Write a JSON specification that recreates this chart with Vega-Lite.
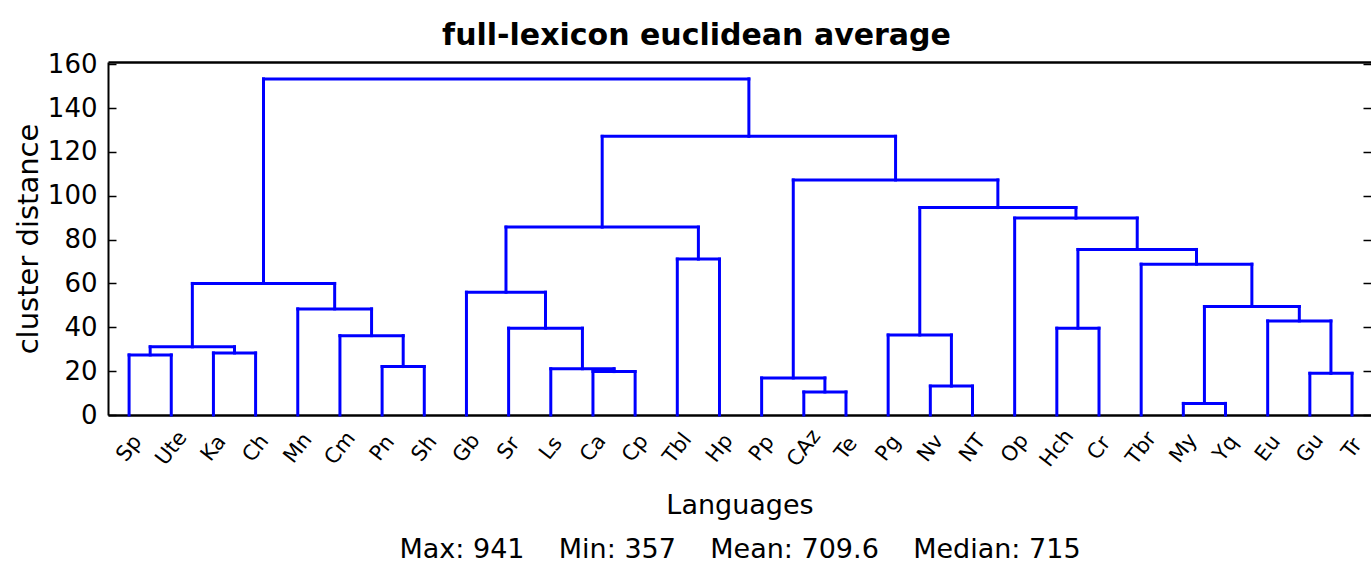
{
  "$schema": "https://vega.github.io/schema/vega-lite/v6.json",
  "autosize": {"type": "none"},
  "padding": {"left": 108, "top": 62, "right": 0, "bottom": 148},
  "width": 1263,
  "height": 353,
  "background": "white",
  "title": {"text": "full-lexicon euclidean average", "font": "DejaVu Sans", "fontSize": 30, "fontWeight": "bold", "color": "black", "anchor": "middle", "frame": "group", "dx": -43, "dy": 43, "offset": 19, "baseline": "alphabetic"},
  "config": {"view": {"stroke": null}},
  "data": {"values": [
    {"x1": 5, "y1": 0, "x2": 15, "y2": 0, "h": 27.4},
    {"x1": 25, "y1": 0, "x2": 35, "y2": 0, "h": 28.3},
    {"x1": 10, "y1": 27.4, "x2": 30, "y2": 28.3, "h": 31.1},
    {"x1": 65, "y1": 0, "x2": 75, "y2": 0, "h": 22.1},
    {"x1": 55, "y1": 0, "x2": 70, "y2": 22.1, "h": 36.2},
    {"x1": 45, "y1": 0, "x2": 62.5, "y2": 36.2, "h": 48.4},
    {"x1": 20, "y1": 31.1, "x2": 53.75, "y2": 48.4, "h": 60},
    {"x1": 115, "y1": 0, "x2": 125, "y2": 0, "h": 19.8},
    {"x1": 105, "y1": 0, "x2": 120, "y2": 19.8, "h": 21.1},
    {"x1": 95, "y1": 0, "x2": 112.5, "y2": 21.1, "h": 39.6},
    {"x1": 85, "y1": 0, "x2": 103.75, "y2": 39.6, "h": 56},
    {"x1": 135, "y1": 0, "x2": 145, "y2": 0, "h": 71.1},
    {"x1": 94.375, "y1": 56, "x2": 140, "y2": 71.1, "h": 85.7},
    {"x1": 165, "y1": 0, "x2": 175, "y2": 0, "h": 10.5},
    {"x1": 155, "y1": 0, "x2": 170, "y2": 10.5, "h": 16.9},
    {"x1": 195, "y1": 0, "x2": 205, "y2": 0, "h": 13.2},
    {"x1": 185, "y1": 0, "x2": 200, "y2": 13.2, "h": 36.5},
    {"x1": 225, "y1": 0, "x2": 235, "y2": 0, "h": 39.6},
    {"x1": 255, "y1": 0, "x2": 265, "y2": 0, "h": 5.3},
    {"x1": 285, "y1": 0, "x2": 295, "y2": 0, "h": 19},
    {"x1": 275, "y1": 0, "x2": 290, "y2": 19, "h": 42.9},
    {"x1": 260, "y1": 5.3, "x2": 282.5, "y2": 42.9, "h": 49.5},
    {"x1": 245, "y1": 0, "x2": 271.25, "y2": 49.5, "h": 68.8},
    {"x1": 230, "y1": 39.6, "x2": 258.125, "y2": 68.8, "h": 75.5},
    {"x1": 215, "y1": 0, "x2": 244.0625, "y2": 75.5, "h": 89.8},
    {"x1": 192.5, "y1": 36.5, "x2": 229.53125, "y2": 89.8, "h": 94.6},
    {"x1": 162.5, "y1": 16.9, "x2": 211.015625, "y2": 94.6, "h": 107.2},
    {"x1": 117.1875, "y1": 85.7, "x2": 186.7578125, "y2": 107.2, "h": 127.1},
    {"x1": 36.875, "y1": 60, "x2": 151.97265625, "y2": 127.1, "h": 153.3}
  ]},
  "resolve": {"axis": {"x": "independent", "y": "independent"}},
  "layer": [
    {
      "mark": {"type": "rule", "color": "#0000ff", "strokeWidth": 3, "strokeCap": "square"},
      "encoding": {
        "x": {"field": "x1", "type": "quantitative", "scale": {"domain": [0, 299.5], "nice": false, "zero": false},
          "axis": {"orient": "bottom", "values": [5, 15, 25, 35, 45, 55, 65, 75, 85, 95, 105, 115, 125, 135, 145, 155, 165, 175, 185, 195, 205, 215, 225, 235, 245, 255, 265, 275, 285, 295],
            "labelExpr": "['Sp','Ute','Ka','Ch','Mn','Cm','Pn','Sh','Gb','Sr','Ls','Ca','Cp','Tbl','Hp','Pp','CAz','Te','Pg','Nv','NT','Op','Hch','Cr','Tbr','My','Yq','Eu','Gu','Tr'][round((datum.value-5)/10)]",
            "labelAngle": -52, "labelAlign": "center", "labelBaseline": "middle", "labelPadding": 33,
            "labelOverlap": false, "labelFlush": false, "labelBound": false,
            "ticks": false, "domain": true, "domainColor": "black", "domainWidth": 2.5, "grid": false,
            "labelFont": "DejaVu Sans", "labelFontSize": 21, "labelColor": "black",
            "title": ["Languages", "Max: 941\u00a0\u00a0\u00a0 Min: 357\u00a0\u00a0\u00a0 Mean: 709.6\u00a0\u00a0\u00a0 Median: 715"],
            "titleFont": "DejaVu Sans", "titleFontSize": 27, "titleFontWeight": "normal", "titleColor": "black",
            "titleX": 631.5, "titleY": 98, "titleAlign": "center", "titleBaseline": "alphabetic", "titleLineHeight": 44}},
        "y": {"field": "y1", "type": "quantitative", "scale": {"domain": [0, 161], "nice": false, "zero": false},
          "axis": {"orient": "left", "values": [0, 20, 40, 60, 80, 100, 120, 140, 160],
            "tickSize": -8, "tickColor": "black", "tickWidth": 1.5, "domain": true, "domainColor": "black", "domainWidth": 2, "grid": false,
            "labelFont": "DejaVu Sans", "labelFontSize": 26, "labelColor": "black", "labelPadding": 19, "labelBaseline": "middle",
            "title": "cluster distance", "titleFont": "DejaVu Sans", "titleFontSize": 29, "titleFontWeight": "normal", "titleColor": "black",
            "titleX": -80, "titleY": 176.5, "titleAngle": -90, "titleAlign": "center", "titleBaseline": "middle"}},
        "y2": {"field": "h"}
      }
    },
    {
      "mark": {"type": "rule", "color": "#0000ff", "strokeWidth": 3, "strokeCap": "square"},
      "encoding": {
        "x": {"field": "x2", "type": "quantitative", "scale": {"domain": [0, 299.5], "nice": false, "zero": false}, "axis": null},
        "y": {"field": "y2", "type": "quantitative", "scale": {"domain": [0, 161], "nice": false, "zero": false},
          "axis": {"orient": "right", "values": [0, 20, 40, 60, 80, 100, 120, 140, 160], "labels": false, "title": null,
            "tickSize": -8, "tickColor": "black", "tickWidth": 1.5, "domain": false, "grid": false}},
        "y2": {"field": "h"}
      }
    },
    {
      "mark": {"type": "rule", "color": "#0000ff", "strokeWidth": 3, "strokeCap": "square"},
      "encoding": {
        "x": {"field": "x1", "type": "quantitative", "scale": {"domain": [0, 299.5], "nice": false, "zero": false},
          "axis": {"orient": "top", "labels": false, "ticks": false, "title": null, "grid": false, "domain": true, "domainColor": "black", "domainWidth": 2.5}},
        "x2": {"field": "x2"},
        "y": {"field": "h", "type": "quantitative", "scale": {"domain": [0, 161], "nice": false, "zero": false}, "axis": null}
      }
    }
  ]
}
